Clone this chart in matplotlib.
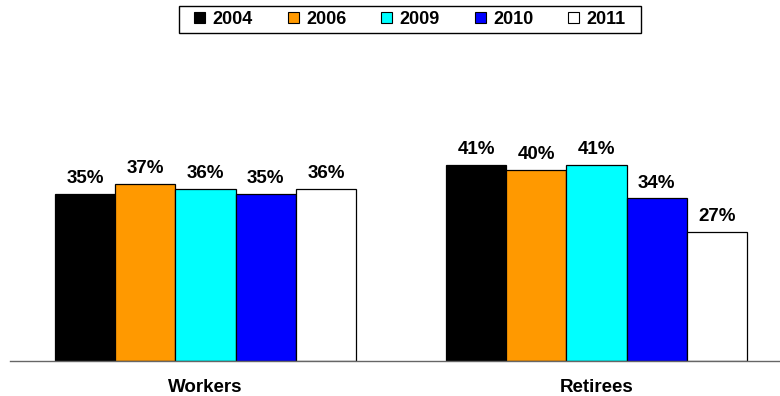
import matplotlib
matplotlib.use("Agg")
import matplotlib.pyplot as plt
from matplotlib.patches import Patch, Rectangle
import numpy as np

plt.rcParams['font.family'] = ['Liberation Sans', 'DejaVu Sans']

categories = ["Workers", "Retirees"]
years = ["2004", "2006", "2009", "2010", "2011"]
values = {
    "2004": [35, 41],
    "2006": [37, 40],
    "2009": [36, 41],
    "2010": [35, 34],
    "2011": [36, 27],
}
colors = ["#000000", "#FF9900", "#00FFFF", "#0000FF", "#FFFFFF"]

W, H = 780, 396
fig = plt.figure(figsize=(W / 100, H / 100), dpi=100)
ax = fig.add_axes([10 / W, 1 - 361 / H, 782 / W, 239 / H])

x = np.arange(len(categories)) + 0.5
bw = 0.154
n = len(years)
for i, (yr, c) in enumerate(zip(years, colors)):
    offs = (i - (n - 1) / 2) * bw
    bars = ax.bar(x + offs, values[yr], width=bw, color=c,
                  edgecolor="black", linewidth=0.9, zorder=2)
    for b, v in zip(bars, values[yr]):
        ax.annotate(f"{v}%", (b.get_x() + b.get_width() / 2, v),
                    xytext=(0, 5), textcoords="offset points",
                    ha="center", va="bottom", fontsize=13.5, fontweight="bold")

ax.set_xlim(0, 2)
ax.set_ylim(0, 50)
ax.set_xticks(x)
ax.set_xticklabels(categories, fontsize=13.5, fontweight="bold")
ax.tick_params(axis="x", length=0, pad=13)
ax.set_yticks([])
for s in ["top", "right", "left"]:
    ax.spines[s].set_visible(False)
ax.spines["bottom"].set_color("#666666")
ax.spines["bottom"].set_linewidth(1.0)
ax.patch.set_visible(False)

# legend frame drawn separately so it can carry wider side padding
fig.patches.append(Rectangle((179 / W, 1 - 33 / H), 462 / W, 27 / H,
                             transform=fig.transFigure, facecolor="white",
                             edgecolor="black", linewidth=1.0, zorder=0))
handles = [Patch(facecolor=c, edgecolor="black", linewidth=0.8) for c in colors]
leg = fig.legend(handles, years, loc="center",
                 bbox_to_anchor=(410 / W, 1 - 19.5 / H), ncol=5,
                 prop={"size": 13, "weight": "bold"},
                 handlelength=0.61, handleheight=0.61, handletextpad=0.4,
                 columnspacing=1.94, borderpad=0.2, frameon=False)

fig.savefig("out.png", dpi=100)
